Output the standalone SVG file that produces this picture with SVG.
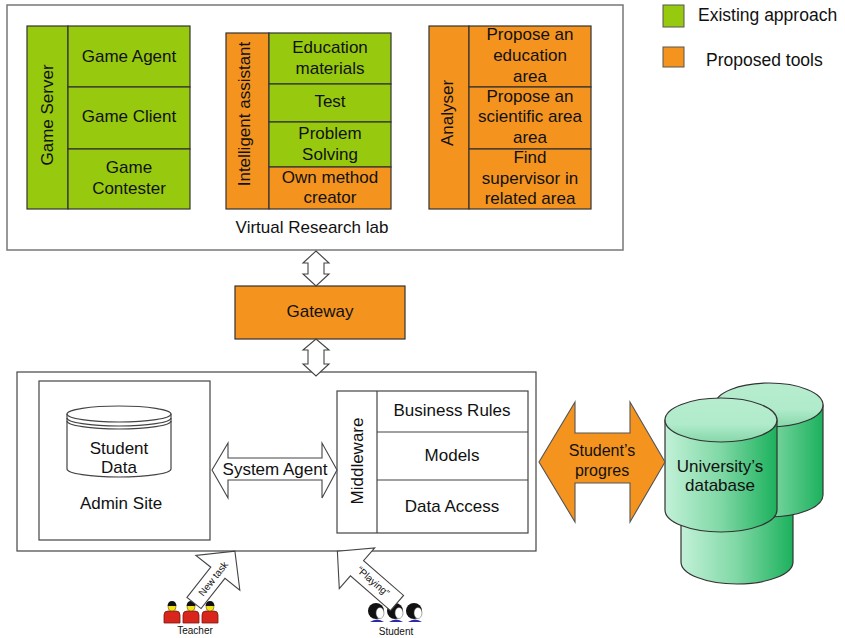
<svg xmlns="http://www.w3.org/2000/svg" width="845" height="638" viewBox="0 0 845 638">
  <defs>
    <style>
      text { font-family: "Liberation Sans", Arial, sans-serif; fill: #111; }
      .t17 { font-size: 17px; text-anchor: middle; }
      .t16 { font-size: 16px; text-anchor: middle; }
      .small { font-size: 10px; text-anchor: middle; }
      .green { fill: #97c90f; stroke: #333; stroke-width: 1.2; }
      .orange { fill: #f4941f; stroke: #333; stroke-width: 1.2; }
      .frame { fill: #fff; stroke: #777; stroke-width: 1.5; }
      .box { fill: #fff; stroke: #444; stroke-width: 1.2; }
      .line { fill: none; stroke: #444; stroke-width: 1.2; }
      .blk { fill: #fff; stroke: #444; stroke-width: 1.1; }
      .db { fill: url(#dbBody); stroke: #333; stroke-width: 1.2; }
      .dbtop { fill: url(#dbTop); stroke: #333; stroke-width: 1.2; }
    </style>
    <linearGradient id="dbBody" x1="0" y1="0" x2="1" y2="0">
      <stop offset="0" stop-color="#c2f1d8"/>
      <stop offset="0.5" stop-color="#7fd8a5"/>
      <stop offset="1" stop-color="#1cb15d"/>
    </linearGradient>
    <linearGradient id="dbTop" x1="0" y1="0" x2="0" y2="1">
      <stop offset="0" stop-color="#b7edcf"/>
      <stop offset="0.6" stop-color="#b0ebcb"/>
      <stop offset="1" stop-color="#86d7a9"/>
    </linearGradient>
  </defs>

  <rect width="845" height="638" fill="#fff"/>

  <!-- Virtual Research lab frame -->
  <g id="virtual-research-lab">
    <rect class="frame" x="7" y="5" width="616" height="245"/>
    <text class="t17" x="312" y="233">Virtual Research lab</text>
  </g>

  <!-- Game Server -->
  <g id="game-server">
    <rect class="green" x="27" y="26" width="41" height="183"/>
    <rect class="green" x="68" y="26" width="122" height="61"/>
    <rect class="green" x="68" y="87" width="122" height="62"/>
    <rect class="green" x="68" y="149" width="122" height="60"/>
    <text class="t17" transform="translate(53,115) rotate(-90)">Game Server</text>
    <text class="t17" x="129" y="62">Game Agent</text>
    <text class="t17" x="129" y="122">Game Client</text>
    <text class="t17" x="129" y="173">Game</text>
    <text class="t17" x="129" y="194">Contester</text>
  </g>

  <!-- Intelligent assistant -->
  <g id="intelligent-assistant">
    <rect class="orange" x="226" y="33" width="43" height="176"/>
    <rect class="green" x="269" y="33" width="122" height="51"/>
    <rect class="green" x="269" y="84" width="122" height="38"/>
    <rect class="green" x="269" y="122" width="122" height="45"/>
    <rect class="orange" x="269" y="167" width="122" height="42"/>
    <text class="t17" transform="translate(250,114) rotate(-90)">Intelligent assistant</text>
    <text class="t17" x="330" y="53">Education</text>
    <text class="t17" x="330" y="74">materials</text>
    <text class="t17" x="330" y="107">Test</text>
    <text class="t17" x="330" y="139">Problem</text>
    <text class="t17" x="330" y="160">Solving</text>
    <text class="t17" x="330" y="183">Own method</text>
    <text class="t17" x="330" y="203">creator</text>
  </g>

  <!-- Analyser -->
  <g id="analyser">
    <rect class="orange" x="429" y="26" width="40" height="183"/>
    <rect class="orange" x="469" y="26" width="122" height="61"/>
    <rect class="orange" x="469" y="87" width="122" height="62"/>
    <rect class="orange" x="469" y="149" width="122" height="60"/>
    <text class="t17" transform="translate(453,113) rotate(-90)">Analyser</text>
    <text class="t17" x="530" y="40">Propose an</text>
    <text class="t17" x="530" y="61">education</text>
    <text class="t17" x="530" y="82">area</text>
    <text class="t17" x="530" y="102">Propose an</text>
    <text class="t17" x="530" y="122">scientific area</text>
    <text class="t17" x="530" y="143">area</text>
    <text class="t17" x="530" y="163">Find</text>
    <text class="t17" x="530" y="184">supervisor in</text>
    <text class="t17" x="530" y="204">related area</text>
  </g>

  <!-- Legend -->
  <g id="legend">
    <rect x="663" y="5" width="21" height="22" fill="#97c90f" stroke="#555" stroke-width="1"/>
    <text x="698" y="21" style="font-size:17.5px">Existing approach</text>
    <rect x="663" y="47" width="21" height="20" fill="#f4941f" stroke="#555" stroke-width="1"/>
    <text x="706" y="66" style="font-size:17.5px">Proposed tools</text>
  </g>

  <!-- Gateway -->
  <g id="gateway">
    <rect class="orange" x="235" y="286" width="170" height="53"/>
    <text class="t17" x="320" y="317">Gateway</text>
  </g>

  <!-- Server site -->
  <g id="server-site">
    <rect class="box" x="17" y="372" width="519" height="179"/>
  </g>

  <!-- Admin Site with Student Data store -->
  <g id="admin-site">
    <rect class="box" x="39" y="381" width="171" height="159"/>
    <path class="box" d="M67,414 V469 A52,8 0 0 0 171,469 V414"/>
    <ellipse class="box" cx="119" cy="414" rx="52" ry="8"/>
    <path class="line" d="M67,418 A52,8 0 0 0 171,418"/>
    <path class="line" d="M67,421 A52,8 0 0 0 171,421"/>
    <text class="t17" x="119" y="454">Student</text>
    <text class="t17" x="119" y="473">Data</text>
    <text class="t17" x="121" y="509">Admin Site</text>
  </g>

  <!-- Middleware -->
  <g id="middleware">
    <rect class="box" x="337" y="391" width="191" height="142"/>
    <line class="line" x1="377" y1="391" x2="377" y2="533"/>
    <line class="line" x1="377" y1="432" x2="528" y2="432"/>
    <line class="line" x1="377" y1="480" x2="528" y2="480"/>
    <text class="t17" transform="translate(363,461) rotate(-90)">Middleware</text>
    <text class="t17" x="452" y="416">Business Rules</text>
    <text class="t17" x="452" y="461">Models</text>
    <text class="t17" x="452" y="512">Data Access</text>
  </g>

  <!-- University's database -->
  <g id="university-database">
    <path class="db" d="M681,470 V562 A56,22 0 0 0 793,562 V470 Z"/>
    <path class="db" d="M715,405 V495 A54,22 0 0 0 823,495 V405 Z"/>
    <ellipse class="dbtop" cx="769" cy="405" rx="54" ry="22"/>
    <path class="db" d="M665,420 V510 A56,22 0 0 0 777,510 V420 Z"/>
    <ellipse class="dbtop" cx="721" cy="420" rx="56" ry="22"/>
    <text class="t17" x="720" y="472">University’s</text>
    <text class="t17" x="720" y="491">database</text>
  </g>

  <!-- Teacher -->
  <g id="teacher">
    <g fill="#d8261c" stroke="#7a1410" stroke-width="0.8">
      <path d="M164,623 V615 Q164,611 168,611 H176 Q180,611 180,615 V623 Z"/>
      <path d="M183,623 V615 Q183,611 187,611 H195 Q199,611 199,615 V623 Z"/>
      <path d="M202,623 V615 Q202,611 206,611 H214 Q218,611 218,615 V623 Z"/>
    </g>
    <g fill="#f2e21a" stroke="#6a5c00" stroke-width="0.6">
      <circle cx="172" cy="607" r="4"/>
      <circle cx="191" cy="607" r="4"/>
      <circle cx="210" cy="607" r="4"/>
    </g>
    <g fill="#111">
      <path d="M167.5,606 Q168,601 172,601 Q176,601 176.5,606 Z"/>
      <path d="M186.5,606 Q187,601 191,601 Q195,601 195.5,606 Z"/>
      <path d="M205.5,606 Q206,601 210,601 Q214,601 214.5,606 Z"/>
    </g>
    <text class="small" x="195" y="634">Teacher</text>
  </g>

  <!-- Student -->
  <g id="student">
    <g fill="#2a2aa8">
      <path d="M370,622 Q377,617 384,622 Z"/>
      <path d="M389,622 Q396,617 403,622 Z"/>
      <path d="M408,622 Q415,617 422,622 Z"/>
    </g>
    <g fill="#111">
      <circle cx="376" cy="611" r="8"/>
      <circle cx="395" cy="611" r="8"/>
      <circle cx="414" cy="611" r="8"/>
    </g>
    <g fill="#fff" stroke="#555" stroke-width="0.5">
      <ellipse cx="380" cy="613" rx="4" ry="5.5"/>
      <ellipse cx="399" cy="613" rx="4" ry="5.5"/>
      <ellipse cx="418" cy="613" rx="4" ry="5.5"/>
    </g>
    <text class="small" x="396" y="635">Student</text>
  </g>

  <!-- Connectors -->
  <g id="connectors">
    <polygon class="blk" stroke="#666" points="316,251 329,263 324,263 324,274 329,274 316,286 303,274 308,274 308,263 303,263"/>
    <polygon class="blk" stroke="#666" points="316,339 329,350 324,350 324,364 329,364 316,376 303,364 308,364 308,350 303,350"/>
    <polygon class="blk" points="212,470 228,443 228,458 322,458 322,443 337,470 322,498 322,480 228,480 228,498"/>
    <text class="t17" x="275" y="475">System Agent</text>
    <polygon points="539,462 575,402 575,433 630,433 630,402 665,462 630,522 630,483 575,483 575,522" fill="#f4941f" stroke="#555" stroke-width="1.1"/>
    <text class="t16" x="602" y="456">Student’s</text>
    <text class="t16" x="602" y="476">progres</text>
    <g transform="translate(194,603) rotate(-51.7)">
      <polygon class="blk" points="0,-9 38.5,-9 38.5,-28 66,0 38.5,28 38.5,9 0,9"/>
      <text class="small" x="31" y="3.5">New task</text>
    </g>
    <g transform="translate(397,603) rotate(-139)">
      <polygon class="blk" points="0,-10 53,-10 53,-27 79,0 53,27 53,10 0,10"/>
    </g>
    <text class="small" transform="translate(371,584) rotate(41)">“Playing”</text>
  </g>
</svg>
